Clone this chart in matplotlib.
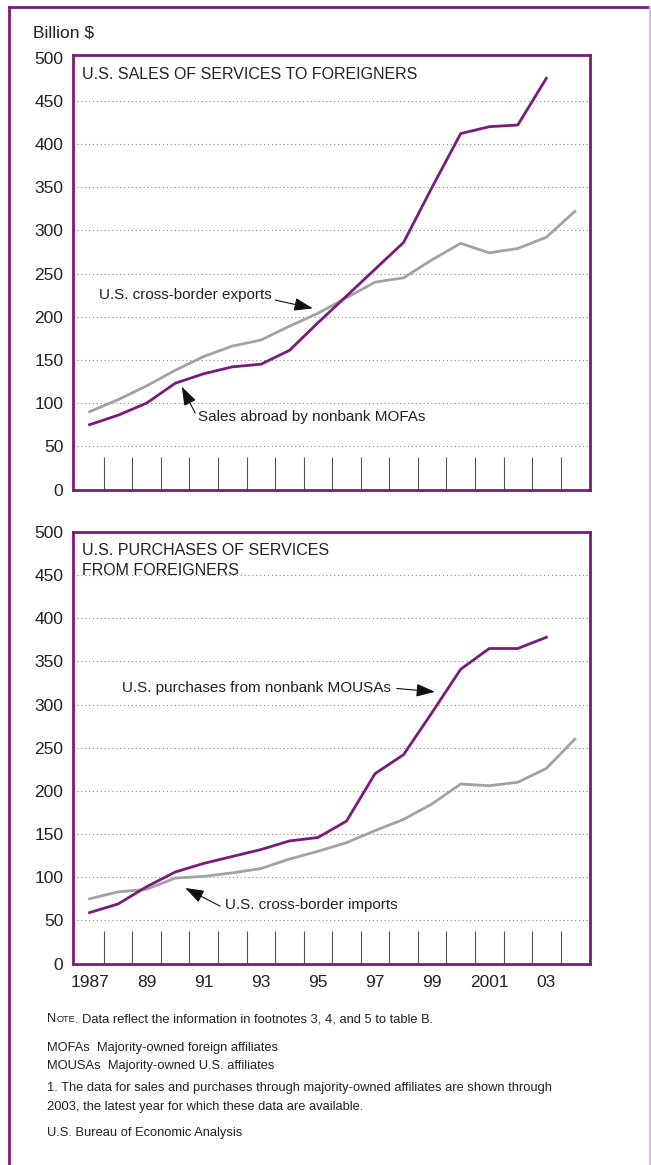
import matplotlib
matplotlib.use("Agg")
import matplotlib.pyplot as plt
from matplotlib.lines import Line2D

# ---------------- data ----------------
years = list(range(1987, 2005))
years_aff = list(range(1987, 2004))

sales_mofa = [75, 86, 100, 123, 134, 142, 145, 161, 193, 224, 255, 286, 350, 412, 420, 422, 476]
exports_cb = [90, 104, 120, 138, 154, 166, 173, 189, 204, 222, 240, 245, 266, 285, 274, 279, 292, 322]

purch_mousa = [59, 69, 89, 106, 116, 124, 132, 142, 146, 165, 220, 242, 291, 341, 365, 365, 378]
imports_cb = [75, 83, 86, 99, 101, 105, 110, 121, 130, 140, 154, 167, 185, 208, 206, 210, 226, 260]

ytick_vals = [0, 50, 100, 150, 200, 250, 300, 350, 400, 450, 500]
xlabel_years = [1987, 1989, 1991, 1993, 1995, 1997, 1999, 2001, 2003]
xlabel_text = ["1987", "89", "91", "93", "95", "97", "99", "2001", "03"]

PURPLE = "#7a1a7a"
GRAY = "#a2a2a2"
TXT = "#222222"
FONT = ["Liberation Sans", "DejaVu Sans"]

W, H = 651, 1165
fig = plt.figure(figsize=(W / 100, H / 100), dpi=100)

def px(x, y):
    return x / W, 1 - y / H

# outer frame
fig.add_artist(Line2D([9 / W, 9 / W], [0, 1 - 7 / H], color=PURPLE, lw=2.0, transform=fig.transFigure))
fig.add_artist(Line2D([9 / W, 650 / W], [1 - 7 / H, 1 - 7 / H], color=PURPLE, lw=2.0, transform=fig.transFigure))
fig.add_artist(Line2D([650 / W, 650 / W], [0, 1 - 7 / H], color="#d9bcd9", lw=1.5, transform=fig.transFigure))

def make_axes(top_px, bot_px, ytop):
    left, right = 73, 590
    ax = fig.add_axes([left / W, 1 - bot_px / H, (right - left) / W, (bot_px - top_px) / H])
    ax.set_xlim(1986.42, 2004.53)
    ax.set_ylim(0, ytop)
    for s in ax.spines.values():
        s.set_color(PURPLE)
        s.set_linewidth(2.0)
    ax.set_yticks(ytick_vals)
    ax.set_yticklabels([str(v) for v in ytick_vals], family=FONT, fontsize=12.5, color=TXT)
    ax.tick_params(axis="y", length=0, pad=7)
    ax.set_xticks([y + 0.5 for y in range(1987, 2004)])
    ax.tick_params(axis="x", direction="in", length=24, width=0.8, color="#555555", labelbottom=False)
    for v in ytick_vals[1:-1]:
        ax.axhline(v, color="#888888", lw=0.8, ls=(0, (1, 2.5)), zorder=1)
    return ax

ax1 = make_axes(55, 489.5, 503)
ax2 = make_axes(532, 963.5, 498)

ARW = dict(arrowstyle="-|>,head_length=1.15,head_width=0.4", color="#111111", lw=0.8, shrinkA=0, shrinkB=0)
AFS = 11.0

# top panel
ax1.plot(years, exports_cb, color=GRAY, lw=2.0, zorder=3)
ax1.plot(years_aff, sales_mofa, color=PURPLE, lw=2.0, zorder=4)
ax1.text(1986.75, 481, "U.S. SALES OF SERVICES TO FOREIGNERS", family=FONT, fontsize=11.5,
         color=TXT, va="center", ha="left", zorder=5)
ax1.text(1987.33, 225, "U.S. cross-border exports", family=FONT, fontsize=AFS, color=TXT,
         va="center", ha="left", zorder=5)
ax1.annotate("", xy=(1994.82, 209.7), xytext=(1993.5, 219.3), arrowprops=ARW, zorder=6)
ax1.text(1990.8, 84, "Sales abroad by nonbank MOFAs", family=FONT, fontsize=AFS, color=TXT,
         va="center", ha="left", zorder=5)
ax1.annotate("", xy=(1990.23, 119), xytext=(1990.7, 88.5), arrowprops=ARW, zorder=6)

# bottom panel
ax2.plot(years, imports_cb, color=GRAY, lw=2.0, zorder=3)
ax2.plot(years_aff, purch_mousa, color=PURPLE, lw=2.0, zorder=4)
ax2.text(1986.75, 478, "U.S. PURCHASES OF SERVICES", family=FONT, fontsize=11.5,
         color=TXT, va="center", ha="left", zorder=5)
ax2.text(1986.75, 455, "FROM FOREIGNERS", family=FONT, fontsize=11.5,
         color=TXT, va="center", ha="left", zorder=5)
ax2.text(1988.14, 319, "U.S. purchases from nonbank MOUSAs", family=FONT, fontsize=AFS, color=TXT,
         va="center", ha="left", zorder=5)
ax2.annotate("", xy=(1999.1, 314.8), xytext=(1997.76, 318.7), arrowprops=ARW, zorder=6)
ax2.text(1991.75, 67.5, "U.S. cross-border imports", family=FONT, fontsize=AFS, color=TXT,
         va="center", ha="left", zorder=5)
ax2.annotate("", xy=(1990.35, 87.5), xytext=(1991.57, 66.5), arrowprops=ARW, zorder=6)

# x labels for bottom panel
for yv, t in zip(xlabel_years, xlabel_text):
    ax2.text(yv + 0.0, -13, t, family=FONT, fontsize=12.5, color=TXT, ha="center", va="top")

# y unit label
fig.text(*px(33, 33), "Billion $", family=FONT, fontsize=12.5, color=TXT, ha="left", va="center")

# footnotes
fs = 9.3
renderer = fig.canvas.get_renderer()
tN = fig.text(*px(47, 1022), "N", family=FONT, fontsize=fs, color=TXT, ha="left", va="baseline")
bb = tN.get_window_extent(renderer)
tO = fig.text((bb.x1 + 0.5) / W, 1 - 1022 / H, "OTE", family=FONT, fontsize=fs * 0.72, color=TXT,
              ha="left", va="baseline")
bb2 = tO.get_window_extent(renderer)
fig.text(bb2.x1 / W, 1 - 1022 / H, ". Data reflect the information in footnotes 3, 4, and 5 to table B.",
         family=FONT, fontsize=fs, color=TXT, ha="left", va="baseline")
fig.text(*px(47, 1048), "MOFAs  Majority-owned foreign affiliates", family=FONT, fontsize=fs,
         color=TXT, ha="left", va="center")
fig.text(*px(47, 1066), "MOUSAs  Majority-owned U.S. affiliates", family=FONT, fontsize=fs,
         color=TXT, ha="left", va="center")
fig.text(*px(47, 1088), "1. The data for sales and purchases through majority-owned affiliates are shown through",
         family=FONT, fontsize=fs, color=TXT, ha="left", va="center")
fig.text(*px(47, 1107), "2003, the latest year for which these data are available.", family=FONT, fontsize=fs,
         color=TXT, ha="left", va="center")
fig.text(*px(47, 1133), "U.S. Bureau of Economic Analysis", family=FONT, fontsize=fs,
         color=TXT, ha="left", va="center")

fig.savefig("out.png", dpi=100)
